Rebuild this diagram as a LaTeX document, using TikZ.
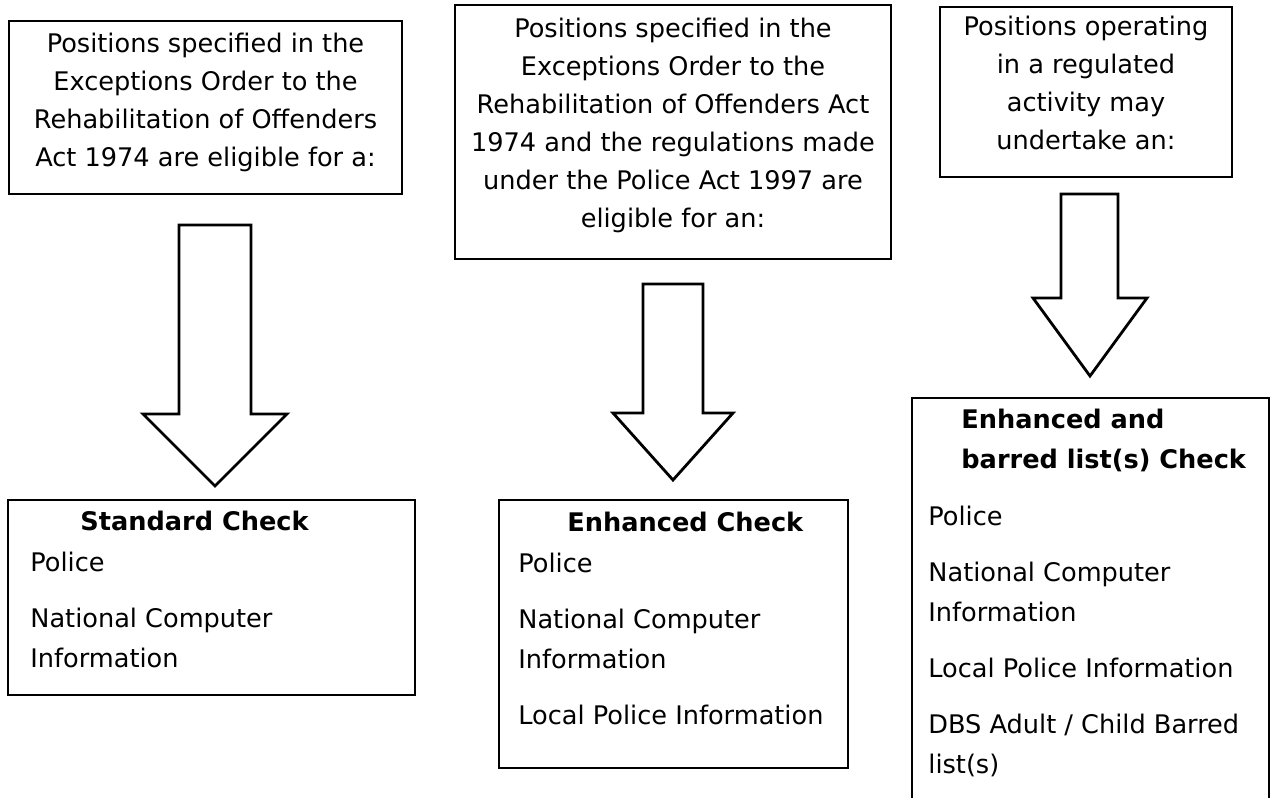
\documentclass[tikz,border=0pt]{standalone}
\usepackage{fontspec}
\setmainfont{DejaVu Sans}
\begin{document}
\begin{tikzpicture}[x=0.5pt, y=-0.5pt,
    box/.style={draw, rectangle, line width=1pt, inner sep=0pt},
    toptext/.style={inner sep=0pt, anchor=north, align=center, font=\fontsize{12.8}{19}\selectfont},
    listtext/.style={inner sep=0pt, anchor=north west, align=left, font=\fontsize{12.8}{20}\selectfont},
    headtext/.style={inner sep=0pt, anchor=north west, align=left, font=\fontsize{12.8}{20}\selectfont\bfseries},
    bigarrow/.style={draw, line width=1.4pt, line join=miter}]
    \path[use as bounding box, fill=white] (0,0) rectangle (1270,798);

    % Nodes
    \node[box, minimum width=196.5pt, minimum height=86.5pt] (rehab) at (205.5,107.5) {};
    \node[box, minimum width=218pt, minimum height=127pt] (police) at (673,132) {};
    \node[box, minimum width=146pt, minimum height=85pt] (regulated) at (1086,92) {};
    \node[box, minimum width=203.5pt, minimum height=97.5pt] (standard) at (211.5,597.5) {};
    \node[box, minimum width=174.5pt, minimum height=134pt] (enhanced) at (673.5,634) {};
    \node[box, minimum width=178.5pt, minimum height=216pt] (barred) at (1090.5,614) {};

    % Texts
    \node[toptext] (rehab text) at (205.5,25.4) {\strut Positions specified in the\\Exceptions Order to the\\Rehabilitation of Offenders\\Act 1974 are eligible for a:};
    \node[toptext] (police text) at (673,10.4) {\strut Positions specified in the\\Exceptions Order to the\\Rehabilitation of Offenders Act\\1974 and the regulations made\\under the Police Act 1997 are\\eligible for an:};
    \node[toptext] (regulated text) at (1086,8.4) {\strut Positions operating\\in a regulated\\activity may\\undertake an:};

    \node[headtext] (standard head) at (80,502) {\strut Standard Check};
    \node[listtext] (standard list) at (30,543) {\strut Police\\[8pt]National Computer\\Information};

    \node[headtext] (enhanced head) at (567,503) {\strut Enhanced Check};
    \node[listtext] (enhanced list) at (518,544) {\strut Police\\[8pt]National Computer\\Information\\[8pt]Local Police Information};

    \node[headtext] (barred head) at (961,400) {\strut Enhanced and\\barred list(s) Check};
    \node[listtext] (barred list) at (928,497) {\strut Police\\[8pt]National Computer\\Information\\[8pt]Local Police Information\\[8pt]DBS Adult / Child Barred\\list(s)};

    % Arrows
    \draw[bigarrow] (179,225) -- (251,225) -- (251,414) -- (287,414) -- (215,486) -- (143,414) -- (179,414) -- cycle;
    \draw[bigarrow] (643,284) -- (703,284) -- (703,413) -- (733,413) -- (673,480) -- (613,413) -- (643,413) -- cycle;
    \draw[bigarrow] (1061,194) -- (1118,194) -- (1118,298) -- (1147,298) -- (1090,376) -- (1033,298) -- (1061,298) -- cycle;
\end{tikzpicture}
\end{document}
